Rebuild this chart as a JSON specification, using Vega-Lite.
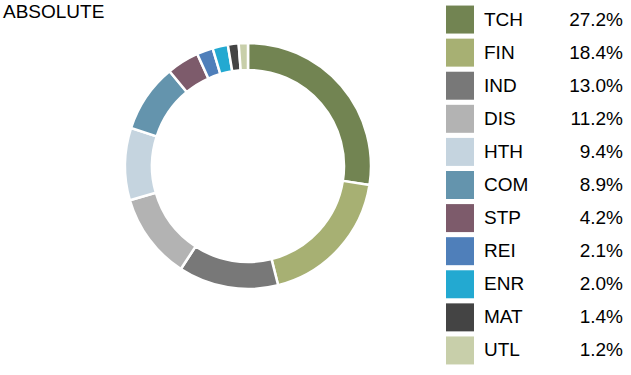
{
  "$schema": "https://vega.github.io/schema/vega-lite/v6.json",
  "padding": {"left": 3, "top": 3, "right": 0, "bottom": 0},
  "background": "white",
  "config": {"view": {"stroke": null}, "font": "Liberation Sans"},
  "data": {"values": [
    {"sector": "TCH", "share": 0.272},
    {"sector": "FIN", "share": 0.184},
    {"sector": "IND", "share": 0.130},
    {"sector": "DIS", "share": 0.112},
    {"sector": "HTH", "share": 0.094},
    {"sector": "COM", "share": 0.089},
    {"sector": "STP", "share": 0.042},
    {"sector": "REI", "share": 0.021},
    {"sector": "ENR", "share": 0.020},
    {"sector": "MAT", "share": 0.014},
    {"sector": "UTL", "share": 0.012}
  ]},
  "spacing": 70,
  "hconcat": [
    {
      "title": {"text": "ABSOLUTE", "anchor": "start", "frame": "group", "dx": -122, "offset": -19, "fontSize": 19, "fontWeight": "normal", "color": "#000000", "font": "Liberation Sans"},
      "width": 246,
      "height": 326,
      "mark": {"type": "arc", "outerRadius": 123, "innerRadius": 96, "stroke": "white", "strokeWidth": 2.5},
      "encoding": {
        "theta": {"field": "share", "type": "quantitative", "stack": true},
        "order": {"field": "share", "sort": "descending"},
        "color": {
          "field": "sector", "type": "nominal",
          "scale": {
            "domain": ["TCH", "FIN", "IND", "DIS", "HTH", "COM", "STP", "REI", "ENR", "MAT", "UTL"],
            "range": ["#728452", "#a7b073", "#787878", "#b3b3b3", "#c5d4df", "#6494ad", "#7d5b6b", "#4f7fba", "#23a9d1", "#444444", "#c8cfaa"]
          },
          "legend": null
        }
      }
    },
    {
      "width": 177,
      "height": 364,
      "encoding": {
        "y": {"field": "sector", "type": "nominal", "sort": ["TCH", "FIN", "IND", "DIS", "HTH", "COM", "STP", "REI", "ENR", "MAT", "UTL"], "axis": null}
      },
      "layer": [
        {
          "mark": {"type": "square", "size": 784, "opacity": 1, "filled": true},
          "encoding": {
            "x": {"datum": 14, "type": "quantitative", "scale": {"domain": [0, 177], "nice": false, "zero": false}, "axis": null},
            "color": {"field": "sector", "type": "nominal", "legend": null}
          }
        },
        {
          "mark": {"type": "text", "align": "left", "baseline": "middle", "fontSize": 19, "color": "#000000"},
          "encoding": {
            "x": {"datum": 38, "type": "quantitative"},
            "text": {"field": "sector", "type": "nominal"}
          }
        },
        {
          "mark": {"type": "text", "align": "right", "baseline": "middle", "fontSize": 19, "color": "#000000"},
          "encoding": {
            "x": {"datum": 177, "type": "quantitative"},
            "text": {"field": "share", "type": "quantitative", "format": ".1%"}
          }
        }
      ]
    }
  ]
}
